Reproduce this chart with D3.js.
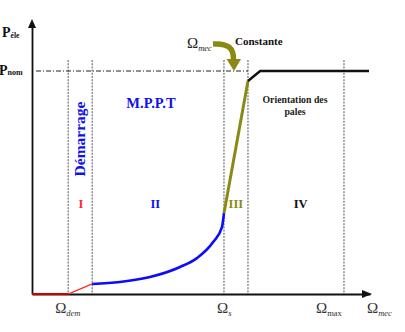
<!DOCTYPE html>
<html><head><meta charset="utf-8">
<script src="https://cdn.jsdelivr.net/npm/d3@7/dist/d3.min.js"></script>
<style>body{margin:0;background:#fff}svg{display:block}</style>
</head><body><svg id="c" width="405" height="332"></svg>
<script>
// Speeds (x, arbitrary units) and power (y, per unit of P_nom)
const boundaries = [1.07, 1.78, 5.68, 6.39, 9.23];       // vertical dashed lines
const xTickLabels = [
  {x: 1.07, main: "Ω", sub: "dem", italic: true},
  {x: 5.68, main: "Ω", sub: "s", italic: true},
  {x: 9.23, main: "Ω", sub: "max", italic: false}
];
const pNom = 1;
const redX = [0, 1.07, 1.78];
const redY = [0, 0, 0.045];
const blueX = [1.78, 2.6, 3.49, 4.38, 4.88, 5.36, 5.62, 5.68];
const blueY = [0.045, 0.054, 0.076, 0.121, 0.161, 0.233, 0.30, 0.363];
const oliveX = [5.68, 6.39];
const oliveY = [0.363, 0.955];
const blackX = [6.39, 6.75, 9.97];
const blackY = [0.955, 1, 1];
const regionLabels = [
  {x: 1.45, t: "I", c: "#ff2a2a"},
  {x: 3.65, t: "II", c: "#1010ee"},
  {x: 6.03, t: "III", c: "#8a8a12"},
  {x: 7.95, t: "IV", c: "#111"}
];

const svg = d3.select("#c");
const x = d3.scaleLinear().domain([0, 10]).range([32, 370]);
const y = d3.scaleLinear().domain([0, 1]).range([294, 71]);
const serif = "'Liberation Serif','DejaVu Serif',serif";

// dashed verticals
svg.append("g").selectAll("line").data(boundaries).join("line")
  .attr("x1", d => x(d)).attr("x2", d => x(d))
  .attr("y1", 60).attr("y2", y(0))
  .attr("stroke", "#444").attr("stroke-width", 0.9).attr("stroke-dasharray", "2,1.2");

// P_nom dash-dot line
svg.append("line").attr("x1", 36).attr("x2", x(6.39)).attr("y1", y(pNom)).attr("y2", y(pNom))
  .attr("stroke", "#222").attr("stroke-width", 1).attr("stroke-dasharray", "5,2,1,2");

// axes
const ax = svg.append("g").attr("transform", `translate(0,${y(0)})`)
  .call(d3.axisBottom(x).tickValues([]).tickSizeOuter(0));
ax.select(".domain").attr("stroke", "#111").attr("stroke-width", 1.8);
const ay = svg.append("g").attr("transform", `translate(${x(0)},0)`)
  .call(d3.axisLeft(d3.scaleLinear().domain([0, 1.2]).range([294, 26])).tickValues([]).tickSizeOuter(0));
ay.select(".domain").attr("stroke", "#111").attr("stroke-width", 1.8);
// arrowheads
svg.append("path").attr("d", `M${x(0)-4},${28} L${x(0)},${19} L${x(0)+4},${28} Z`).attr("fill", "#111");
svg.append("path").attr("d", `M${x(10)-8},${y(0)-4} L${x(10)+2},${y(0)} L${x(10)-8},${y(0)+4} Z`).attr("fill", "#111");

// curves
const line = d3.line().x(d => x(d[0])).y(d => y(d[1]));
svg.append("path").attr("d", line(d3.zip(redX, redY))).attr("fill", "none").attr("stroke", "#ff2a2a").attr("stroke-width", 1.3);
svg.append("path").attr("d", line(d3.zip([0,1.07],[0,0]))).attr("fill", "none").attr("stroke", "#c00").attr("stroke-width", 2);
svg.append("path").attr("d", line.curve(d3.curveMonotoneX)(d3.zip(blueX, blueY))).attr("fill", "none").attr("stroke", "#0a0aff").attr("stroke-width", 2.6);
line.curve(d3.curveLinear);
svg.append("path").attr("d", line(d3.zip(oliveX, oliveY))).attr("fill", "none").attr("stroke", "#8a8a12").attr("stroke-width", 3);
svg.append("path").attr("d", line(d3.zip(blackX, blackY))).attr("fill", "none").attr("stroke", "#111").attr("stroke-width", 2.4);

// curved olive arrow
svg.append("path").attr("d", "M213,44 C228,43 234,48 233.5,60")
  .attr("fill", "none").attr("stroke", "#8a8a12").attr("stroke-width", 5.5);
svg.append("path").attr("d", "M226.5,59 L241,59 L234,71 Z").attr("fill", "#8a8a12");

// text helpers
function sub(g, xx, yy, main, s, opts) {
  const t = g.append("text").attr("x", xx).attr("y", yy).attr("font-family", serif)
    .attr("fill", opts.fill || "#222").attr("text-anchor", opts.anchor || "start");
  t.append("tspan").text(main).attr("font-size", opts.size).attr("font-weight", opts.weight || "normal");
  t.append("tspan").text(s).attr("font-size", opts.subSize).attr("dy", opts.dy)
    .attr("font-style", opts.italic ? "italic" : "normal").attr("font-weight", opts.weight || "normal");
  return t;
}
sub(svg, 2, 37, "P", "éle", {size: 14, subSize: 7.5, dy: 1, weight: "bold", fill: "#111"});
sub(svg, -1, 75, "P", "nom", {size: 14, subSize: 8, dy: 0, weight: "bold", fill: "#111"});
const labelOffsets = [-13, -7, -28];
xTickLabels.forEach((d, i) => {
  sub(svg, x(d.x) + labelOffsets[i], 313, d.main, d.sub, {size: 15, subSize: 8.5, dy: 3, italic: d.italic, fill: "#333"});
});
sub(svg, 367, 313, "Ω", "mec", {size: 15, subSize: 8.5, dy: 3, italic: true, fill: "#333"});
sub(svg, 187, 48, "Ω", "mec", {size: 15, subSize: 8.5, dy: 3, italic: true, fill: "#222"});
svg.append("text").attr("x", 235).attr("y", 45).text("Constante")
  .attr("font-family", serif).attr("font-weight", "bold").attr("font-size", 11).attr("fill", "#111");

svg.append("text").attr("x", 151).attr("y", 108).attr("text-anchor", "middle").text("M.P.P.T")
  .attr("font-family", serif).attr("font-weight", "bold").attr("font-size", 14.5).attr("fill", "#1010ee");
svg.append("text").attr("transform", `translate(85,139) rotate(-90)`).attr("text-anchor", "middle").text("Démarrage")
  .attr("font-family", serif).attr("font-weight", "bold").attr("font-size", 15.5).attr("fill", "#1010ee");
svg.append("text").attr("x", 295).attr("y", 103).attr("text-anchor", "middle").text("Orientation des")
  .attr("font-family", serif).attr("font-weight", "bold").attr("font-size", 9.8).attr("fill", "#222");
svg.append("text").attr("x", 295).attr("y", 115).attr("text-anchor", "middle").text("pales")
  .attr("font-family", serif).attr("font-weight", "bold").attr("font-size", 9.8).attr("fill", "#222");

svg.append("g").selectAll("text").data(regionLabels).join("text")
  .attr("x", d => x(d.x)).attr("y", 208).attr("text-anchor", "middle").text(d => d.t)
  .attr("font-family", serif).attr("font-weight", "bold").attr("font-size", 12.5).attr("fill", d => d.c);
</script></body></html>
